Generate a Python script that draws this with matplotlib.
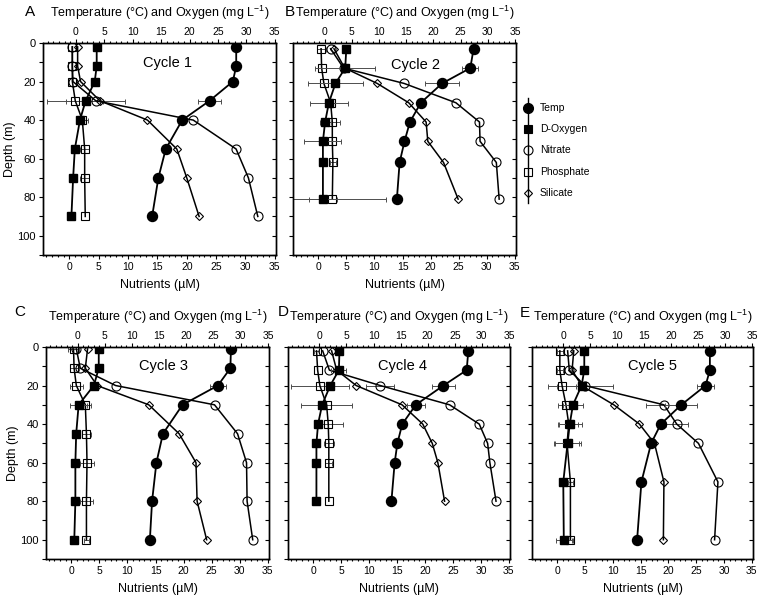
import numpy as np
import matplotlib.pyplot as plt
from matplotlib.lines import Line2D
from matplotlib.ticker import MultipleLocator

plt.rcParams['font.family'] = ['Liberation Sans', 'DejaVu Sans']
plt.rcParams['mathtext.fontset'] = 'custom'
plt.rcParams['mathtext.rm'] = 'Liberation Sans'
plt.rcParams['mathtext.default'] = 'regular'

# ---- Cycle 1 ----
c1_depth = [2, 12, 20, 30, 40, 55, 70, 90]
c1_temp = [28.2, 28.2, 27.6, 23.5, 18.7, 15.8, 14.5, 13.4]
c1_temp_err = [0, 0, 0, 2.0, 0, 0, 0, 0]
c1_oxy = [3.65, 3.65, 3.3, 1.7, 0.7, -0.2, -0.5, -0.8]
c1_oxy_err = [0, 0, 0, 0, 0, 0, 0, 0]
c1_nit = [0.5, 0.5, 0.6, 4.5, 21.1, 28.4, 30.5, 32.1]
c1_nit_err = [0, 0, 0, 5.0, 0, 0, 0, 0]
c1_pho = [0.5, 0.5, 0.5, 1.0, 2.2, 2.6, 2.6, 2.7]
c1_pho_err = [0, 0, 0, 4.8, 1.0, 0.8, 0.8, 0]
c1_sil = [1.4, 1.4, 1.9, 5.2, 13.3, 18.3, 20.0, 22.1]

# ---- Cycle 2 ----
c2_depth = [3, 13, 21, 31, 41, 51, 62, 81]
c2_temp = [27.4, 26.8, 21.6, 17.7, 15.7, 14.7, 13.8, 13.3]
c2_temp_err = [0, 1.5, 3.2, 0, 0, 0, 0, 0]
c2_oxy = [4.0, 3.8, 2.0, 0.8, 0.1, -0.3, -0.3, -0.3]
c2_oxy_err = [0, 5.5, 5.0, 3.5, 1.0, 3.4, 0, 2.6]
c2_nit = [2.2, 4.5, 15.3, 24.5, 28.7, 28.8, 31.7, 32.2]
c2_nit_err = [0, 0, 0, 0, 0, 0, 0, 0]
c2_pho = [0.5, 0.6, 1.0, 2.2, 2.5, 2.5, 2.6, 2.5]
c2_pho_err = [0.8, 0, 0, 0, 1.3, 0, 0.6, 9.5]
c2_sil = [2.8, 4.7, 10.5, 16.1, 19.2, 19.5, 22.3, 24.9]

# ---- Cycle 3 ----
c3_depth = [1, 11, 20, 30, 45, 60, 80, 100]
c3_temp = [28.2, 28.1, 25.8, 19.3, 15.7, 14.5, 13.7, 13.3]
c3_temp_err = [0, 0, 1.5, 0, 0, 0, 0, 0]
c3_oxy = [3.9, 3.9, 3.0, 0.2, -0.25, -0.4, -0.4, -0.6]
c3_oxy_err = [0, 0, 0, 1.5, 0, 0, 0, 0]
c3_nit = [0.9, 1.6, 7.9, 25.5, 29.6, 31.2, 31.3, 32.3]
c3_nit_err = [0, 0, 0, 0, 0, 0, 0, 0]
c3_pho = [0.4, 0.5, 0.9, 2.5, 2.7, 2.8, 2.7, 2.7]
c3_pho_err = [1.0, 0.8, 1.2, 1.0, 0.8, 1.2, 1.2, 0.5]
c3_sil = [2.9, 2.5, 4.6, 13.8, 19.2, 22.2, 22.4, 24.1]

# ---- Cycle 4 ----
c4_depth = [2, 12, 20, 30, 40, 50, 60, 80]
c4_temp = [27.5, 27.2, 22.9, 17.8, 15.3, 14.4, 13.9, 13.3]
c4_temp_err = [0, 0, 2.1, 1.7, 0, 0, 0, 0]
c4_oxy = [3.7, 3.6, 2.0, 0.5, -0.25, -0.55, -0.55, -0.55]
c4_oxy_err = [0, 1.4, 0, 0, 0, 0, 0, 0]
c4_nit = [1.7, 2.9, 12.0, 24.4, 29.7, 31.2, 31.6, 32.7]
c4_nit_err = [0, 0, 2.5, 0, 0, 0, 0, 0]
c4_pho = [0.6, 0.8, 1.2, 2.4, 2.7, 2.8, 2.8, 2.8]
c4_pho_err = [0.5, 0, 5.2, 4.6, 2.6, 0.9, 0.6, 0]
c4_sil = [3.3, 4.2, 7.7, 15.9, 19.6, 21.3, 22.3, 23.5]

# ---- Cycle 5 ----
c5_depth = [2, 12, 20, 30, 40, 50, 70, 100]
c5_temp = [27.2, 27.2, 26.4, 21.9, 18.1, 16.3, 14.5, 13.7]
c5_temp_err = [0, 0, 1.5, 3.0, 0, 0, 0, 0]
c5_oxy = [3.9, 3.9, 3.4, 1.8, 1.2, 0.8, 0.0, 0.1]
c5_oxy_err = [0, 0, 0, 1.8, 2.2, 2.5, 0, 1.5]
c5_nit = [1.9, 2.2, 5.0, 19.2, 21.5, 25.4, 28.9, 28.3]
c5_nit_err = [0, 0, 5.0, 3.2, 2.0, 0, 0, 0]
c5_pho = [0.5, 0.5, 0.9, 1.6, 2.1, 1.8, 2.4, 2.4]
c5_pho_err = [0.5, 0.5, 2.5, 1.5, 1.7, 2.2, 0.5, 0.5]
c5_sil = [3.0, 2.7, 4.4, 10.2, 14.8, 17.5, 19.2, 19.1]

W, H = 760, 600
fig = plt.figure(figsize=(7.6, 6), dpi=100)


def px_box(l, r, t, b):
    return [l / W, 1 - b / H, (r - l) / W, (b - t) / H]


def err(ax, x, y, e):
    x, y, e = np.asarray(x), np.asarray(y), np.asarray(e)
    m = e > 0
    if m.any():
        ax.errorbar(x[m], y[m], xerr=e[m], fmt='none', ecolor='0.3',
                    elinewidth=0.7, capsize=1.8, capthick=0.7, zorder=1)


def panel(box, letter, cycle, tx, ty, depth, temp, temp_e, oxy, oxy_e,
          nit, nit_e, pho, pho_e, sil, left_labels):
    ax = fig.add_axes(px_box(*box))
    axt = ax.twiny()

    # nutrients on the bottom axis
    err(ax, nit, depth, nit_e)
    err(ax, pho, depth, pho_e)
    ax.plot(nit, depth, '-k', lw=1.1, marker='o', ms=6.5, mfc='none', mec='k', mew=0.8, zorder=2)
    ax.plot(pho, depth, '-k', lw=1.1, marker='s', ms=6.0, mfc='none', mec='k', mew=0.8, zorder=2)
    ax.plot(sil, depth, '-k', lw=1.1, marker='D', ms=4.5, mfc='none', mec='k', mew=0.8, zorder=2)

    # temperature and oxygen on the top axis
    err(axt, temp, depth, temp_e)
    err(axt, oxy, depth, oxy_e)
    axt.plot(temp, depth, '-k', lw=1.3, marker='o', ms=7.2, mfc='k', mec='k', zorder=3)
    axt.plot(oxy, depth, '-k', lw=1.3, marker='s', ms=6.2, mfc='k', mec='k', zorder=3)

    ax.set_xlim(-4.5, 35.2)
    axt.set_xlim(-5.8, 35.2)
    ax.set_ylim(110, 0)
    for a in (ax, axt):
        a.set_xticks(range(0, 36, 5))
        a.xaxis.set_minor_locator(MultipleLocator(1))
        for s in a.spines.values():
            s.set_linewidth(1.0)
    ax.yaxis.set_major_locator(MultipleLocator(20))
    ax.yaxis.set_minor_locator(MultipleLocator(10))

    ax.tick_params(axis='x', which='both', direction='out', labelsize=7.5, pad=2, width=0.8)
    ax.tick_params(axis='x', which='major', length=3)
    ax.tick_params(axis='x', which='minor', length=1.6)
    axt.tick_params(axis='x', which='both', direction='out', labelsize=7.5, pad=1.5, width=0.8)
    axt.tick_params(axis='x', which='major', length=3)
    axt.tick_params(axis='x', which='minor', length=1.6)
    ax.tick_params(axis='y', which='both', direction='out', length=3, width=0.8,
                   labelsize=8, pad=2, left=True, right=False, labelleft=left_labels)
    axt.yaxis.set_visible(True)
    axt.yaxis.tick_right()
    axt.tick_params(axis='y', which='both', direction='in', length=3, width=0.8,
                    labelright=False, labelleft=False, left=False)

    ax.set_xlabel('Nutrients (µM)', fontsize=9, labelpad=5)
    axt.set_xlabel('Temperature (°C) and Oxygen (mg L$^{-1}$)', fontsize=9, labelpad=7)
    if left_labels:
        ax.set_ylabel('Depth (m)', fontsize=9, labelpad=1)
    ax.text(tx, 1 - ty, cycle, transform=ax.transAxes, fontsize=10.5, ha='center', va='center')
    fig.text(letter[1] / W, 1 - letter[2] / H, letter[0], fontsize=11, ha='center', va='center')
    return ax


panel((43, 276, 43, 255), ('A', 30, 12), 'Cycle 1', 0.536, 0.094, c1_depth, c1_temp, c1_temp_err,
      c1_oxy, c1_oxy_err, c1_nit, c1_nit_err, c1_pho, c1_pho_err, c1_sil, True)
panel((293, 516, 43, 255), ('B', 290, 12), 'Cycle 2', 0.55, 0.104, c2_depth, c2_temp, c2_temp_err,
      c2_oxy, c2_oxy_err, c2_nit, c2_nit_err, c2_pho, c2_pho_err, c2_sil, False)
panel((46, 269, 347, 559), ('C', 20, 312), 'Cycle 3', 0.525, 0.09, c3_depth, c3_temp, c3_temp_err,
      c3_oxy, c3_oxy_err, c3_nit, c3_nit_err, c3_pho, c3_pho_err, c3_sil, True)
panel((288, 510, 347, 559), ('D', 283, 312), 'Cycle 4', 0.518, 0.09, c4_depth, c4_temp, c4_temp_err,
      c4_oxy, c4_oxy_err, c4_nit, c4_nit_err, c4_pho, c4_pho_err, c4_sil, False)
panel((532, 753, 347, 559), ('E', 525, 313), 'Cycle 5', 0.543, 0.09, c5_depth, c5_temp, c5_temp_err,
      c5_oxy, c5_oxy_err, c5_nit, c5_nit_err, c5_pho, c5_pho_err, c5_sil, False)

# legend: markers strung on a vertical line, as in the original
leg_names = ['Temp', 'D-Oxygen', 'Nitrate', 'Phosphate', 'Silicate']
leg_marks = [('o', 'k', 7.2), ('s', 'k', 6.2), ('o', 'none', 6.5), ('s', 'none', 6.0), ('D', 'none', 4.5)]
lx, ly0, dy = 528, 108, 21.2
fig.add_artist(Line2D([lx / W, lx / W], [1 - 98 / H, 1 - 203 / H], color='k', lw=1.0))
for i, (name, (mk, fc, ms)) in enumerate(zip(leg_names, leg_marks)):
    y = 1 - (ly0 + i * dy) / H
    fig.add_artist(Line2D([lx / W], [y], marker=mk, ms=ms, mfc=fc, mec='k', mew=0.8, ls='none'))
    fig.text(540 / W, y, name, fontsize=7.5, ha='left', va='center')

fig.savefig('out.png', dpi=100)
